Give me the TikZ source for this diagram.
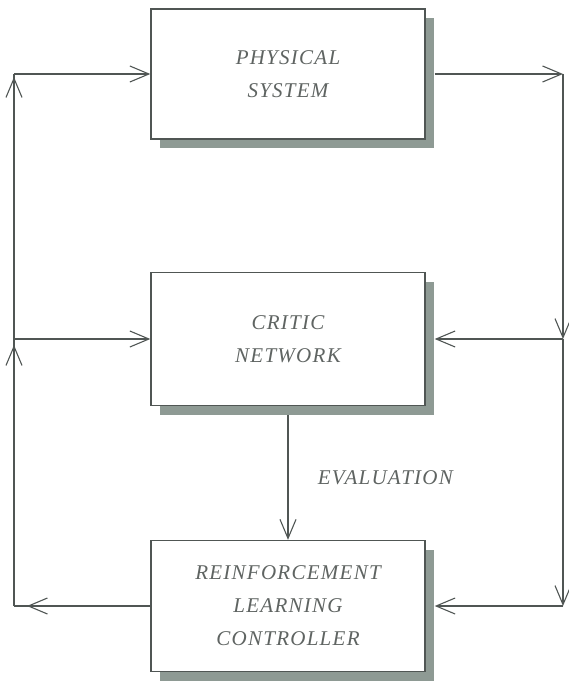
\documentclass[tikz,border=0pt]{standalone}
\usepackage{fontspec}
\setmainfont{Liberation Serif}
\newfontfamily\blockfont[LetterSpace=6]{Liberation Serif}
\usetikzlibrary{arrows.meta,shadows,decorations.markings}

\definecolor{inkgray}{RGB}{80,86,84}
\definecolor{textgray}{RGB}{95,100,98}
\definecolor{shadegray}{RGB}{142,154,148}

\tikzset{
  block/.style={draw=inkgray, line width=1.4pt, fill=white,
    minimum width=274pt, align=center, text=textgray,
    font=\blockfont\itshape\fontsize{21}{33}\selectfont,
    drop shadow={shadow xshift=9pt, shadow yshift=-9pt,
      fill=shadegray, opacity=1}},
  barb/.tip={Straight Barb[length=19pt,width=16pt]},
  wire/.style={draw=inkgray, line width=1.1pt},
  flow/.style={wire, -barb},
  % arrow head set back from the end of the line
  tipat/.style={wire, postaction={decorate, decoration={markings,
    mark=at position #1 with {\arrow{barb}}}}},
  tag/.style={text=textgray, font=\blockfont\itshape\fontsize{21}{25}\selectfont}
}

\begin{document}
\begin{tikzpicture}[x=1pt, y=-1pt]
    \useasboundingbox (0,0) rectangle (568,682);
    \def \lx {14}  % left return line
    \def \rx {563} % right feed line

    \node[block, minimum height=130pt] (phys) at (288,74) {PHYSICAL\\SYSTEM};
    \node[block, minimum height=133pt] (critic) at (288,339) {CRITIC\\NETWORK};
    \node[block, minimum height=131pt] (ctrl) at (288,606) {REINFORCEMENT\\LEARNING\\CONTROLLER};

    % corners of the two loops
    \coordinate (lt) at (\lx,74);
    \coordinate (lm) at (\lx,339);
    \coordinate (lb) at (\lx,606);
    \coordinate (rt) at (\rx,74);
    \coordinate (rm) at (\rx,339);
    \coordinate (rb) at (\rx,606);

    % right side: plant output fed down
    \draw[flow] ([xshift=9pt]phys.east) -- (rt);
    \draw[flow] (rt) -- (rm);
    \draw[flow] (rm) -- ([xshift=9pt]critic.east);
    \draw[flow] (rm) -- (rb);
    \draw[flow] (rb) -- ([xshift=9pt]ctrl.east);

    % left side: control action fed up
    \draw[tipat=-13pt] (ctrl.west) -- (lb);
    \draw[tipat=-6pt] (lb) -- (lm);
    \draw[flow] (lm) -- (critic.west);
    \draw[tipat=-3pt] (lm) -- (lt);
    \draw[flow] (lt) -- (phys.west);

    \draw[flow] ([yshift=-9pt]critic.south) -- node[tag, right=26pt] {EVALUATION} (ctrl.north);
\end{tikzpicture}
\end{document}
